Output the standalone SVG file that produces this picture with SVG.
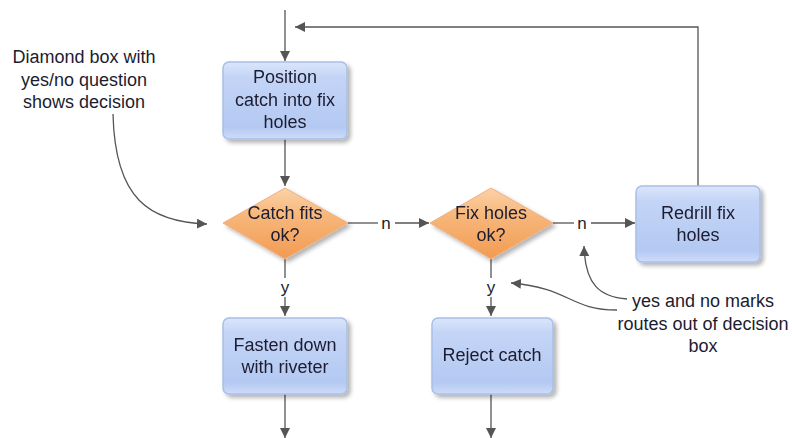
<svg xmlns="http://www.w3.org/2000/svg" width="792" height="438" viewBox="0 0 792 438">
<style>
.box{fill:url(#gb);stroke:#a9bfe8;stroke-width:1.5}
.dia{fill:url(#gd);stroke:#f0b080;stroke-width:1}
.t{font-family:"Liberation Sans",Arial,sans-serif;font-size:18px;fill:#1c1c30;text-anchor:middle}
.c{fill:none;stroke:#555;stroke-width:1.3}
.lbl{font-family:"Liberation Sans",Arial,sans-serif;font-size:17px;fill:#1c1c30;text-anchor:middle}
</style>
<defs>
<linearGradient id="gb" x1="0" y1="0" x2="0" y2="1">
<stop offset="0" stop-color="#dbe6fb"/>
<stop offset="0.2" stop-color="#c3d4f6"/>
<stop offset="0.85" stop-color="#b4c9f2"/>
<stop offset="1" stop-color="#cfdcf8"/>
</linearGradient>
<linearGradient id="gd" x1="0" y1="0" x2="0" y2="1">
<stop offset="0" stop-color="#fbd2a8"/>
<stop offset="0.4" stop-color="#f7b679"/>
<stop offset="1" stop-color="#f29b52"/>
</linearGradient>
<filter id="sh" x="-20%" y="-20%" width="150%" height="150%">
<feGaussianBlur in="SourceAlpha" stdDeviation="2"/>
<feOffset dx="3" dy="3"/>
<feComponentTransfer><feFuncA type="linear" slope="0.3"/></feComponentTransfer>
<feMerge><feMergeNode/><feMergeNode in="SourceGraphic"/></feMerge>
</filter>
<marker id="ah" viewBox="0 0 10 10" refX="10" refY="5" markerWidth="10" markerHeight="10" markerUnits="userSpaceOnUse" orient="auto">
<path d="M0,0 L10,5 L0,10 z" fill="#555"/>
</marker>
</defs>

<g id="connectors">
<path class="c" d="M285,10 L285,61" marker-end="url(#ah)"/>
<path class="c" d="M285,139 L285,186" marker-end="url(#ah)"/>
<path class="c" d="M348,223 L378,223"/>
<path class="c" d="M395,223 L429,223" marker-end="url(#ah)"/>
<path class="c" d="M553,223 L574,223"/>
<path class="c" d="M591,223 L635,223" marker-end="url(#ah)"/>
<path class="c" d="M698,186 L698,27 L295,27" marker-end="url(#ah)"/>
<path class="c" d="M285,259 L285,278"/>
<path class="c" d="M285,297 L285,316" marker-end="url(#ah)"/>
<path class="c" d="M285,394 L285,438" marker-end="url(#ah)"/>
<path class="c" d="M491,259 L491,278"/>
<path class="c" d="M491,297 L491,316" marker-end="url(#ah)"/>
<path class="c" d="M491,394 L491,438" marker-end="url(#ah)"/>
<path class="c" d="M113,114 C115,200 150,222 207,224" marker-end="url(#ah)"/>
<path class="c" d="M627,299 C600,297 585,285 584,246" marker-end="url(#ah)"/>
<path class="c" d="M617,310 C570,310 570,288 511,283" marker-end="url(#ah)"/>
<text class="lbl" x="386" y="229">n</text>
<text class="lbl" x="582" y="229">n</text>
<text class="lbl" x="285" y="293">y</text>
<text class="lbl" x="491" y="293">y</text>
</g>

<g id="n1" filter="url(#sh)">
<rect class="box" x="223" y="62" width="124" height="77" rx="6"/>
<text class="t" x="285" y="83">Position</text>
<text class="t" x="285" y="106">catch into fix</text>
<text class="t" x="285" y="128">holes</text>
</g>

<g id="d1" filter="url(#sh)">
<path class="dia" d="M285,188 L348,223 L285,259 L223,223 Z" stroke-linejoin="round"/>
<text class="t" x="285" y="219">Catch fits</text>
<text class="t" x="285" y="241">ok?</text>
</g>

<g id="d2" filter="url(#sh)">
<path class="dia" d="M491,188 L553,223 L491,259 L430,223 Z" stroke-linejoin="round"/>
<text class="t" x="491" y="219">Fix holes</text>
<text class="t" x="491" y="241">ok?</text>
</g>

<g id="n2" filter="url(#sh)">
<rect class="box" x="636" y="186" width="124" height="76" rx="6"/>
<text class="t" x="698" y="219">Redrill fix</text>
<text class="t" x="698" y="241">holes</text>
</g>

<g id="n3" filter="url(#sh)">
<rect class="box" x="223" y="318" width="124" height="76" rx="6"/>
<text class="t" x="285" y="351">Fasten down</text>
<text class="t" x="285" y="373">with riveter</text>
</g>

<g id="n4" filter="url(#sh)">
<rect class="box" x="432" y="318" width="121" height="76" rx="6"/>
<text class="t" x="492" y="361">Reject catch</text>
</g>

<g id="note1">
<text class="t" x="84" y="63">Diamond box with</text>
<text class="t" x="84" y="86">yes/no question</text>
<text class="t" x="84" y="108">shows decision</text>
</g>

<g id="note2">
<text class="t" x="703" y="307">yes and no marks</text>
<text class="t" x="703" y="330">routes out of decision</text>
<text class="t" x="703" y="352">box</text>
</g>
</svg>
